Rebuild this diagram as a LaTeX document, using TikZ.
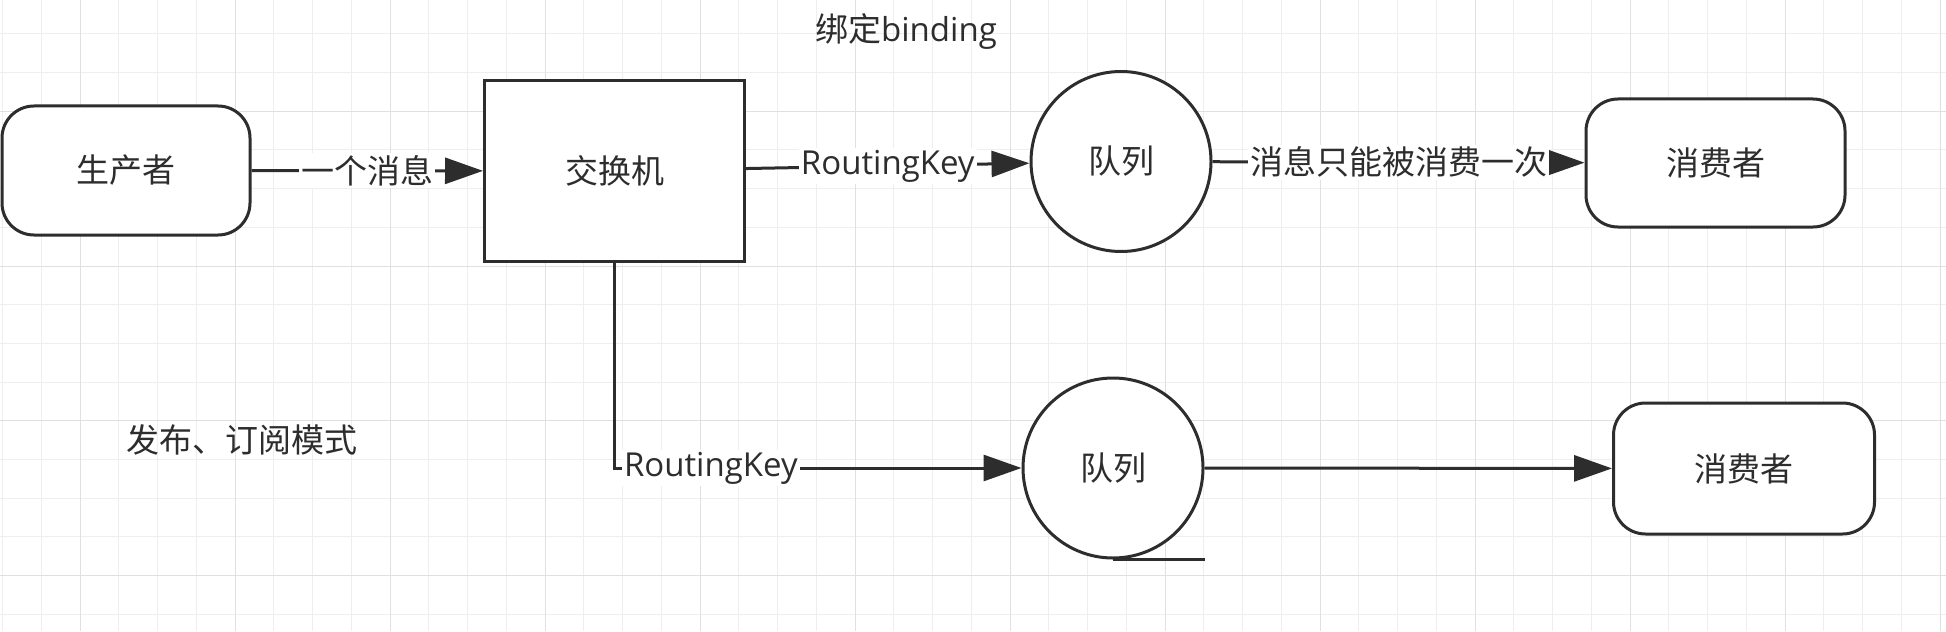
\documentclass[tikz,border=0pt]{standalone}
\usepackage{fontspec}
\setmainfont{Noto Sans CJK SC}
\newfontfamily\latin{Open Sans}
\usetikzlibrary{arrows.meta,positioning}
\definecolor{ink}{RGB}{45,45,45}
\definecolor{gridminor}{RGB}{238,238,238}
\definecolor{gridmajor}{RGB}{224,224,224}
\tikzset{>={Triangle[length=19pt,width=13pt]}}
\tikzset{
  terminal/.style={draw=ink, line width=1.5pt, rounded corners=16pt, fill=white,
                   minimum width=130pt, minimum height=65pt},
  exchange/.style={draw=ink, line width=1.5pt, fill=white,
                   minimum width=130pt, minimum height=90pt},
  queue/.style={draw=ink, line width=1.5pt, circle, fill=white, minimum size=90pt},
  flow/.style={->, draw=ink, line width=1.5pt},
  onflow/.style={fill=white, inner sep=1pt},
}

\begin{document}
\begin{tikzpicture}[x=0.5pt, y=-0.5pt,
    every node/.style={text=ink, font=\fontsize{16.5pt}{20pt}\selectfont}]
    \useasboundingbox (0,0) rectangle (1946,631);
    \fill[white] (0,0) rectangle (1946,631);
    % canvas grid
    \foreach \gx in {2.7,41.45,...,1946} \draw[gridminor, line width=0.5pt] (\gx,0) -- (\gx,631);
    \foreach \gy in {33.8,72.5,...,631} \draw[gridminor, line width=0.5pt] (0,\gy) -- (1946,\gy);
    \foreach \gx in {80.2,235.2,...,1946} \draw[gridmajor, line width=0.5pt] (\gx,0) -- (\gx,631);
    \foreach \gy in {111.2,266,...,631} \draw[gridmajor, line width=0.5pt] (0,\gy) -- (1946,\gy);

    \node[terminal, minimum width=124pt, minimum height=64.5pt](P) at (126,170.5) {生产者};
    \node[exchange](X) at (614.5,171) {交换机};
    \node[queue](Q1) at (1121,161.5) {队列};
    \node[terminal, minimum width=129.5pt, minimum height=64pt](C1) at (1715.5,163) {消费者};
    \node[queue](Q2) at (1113,468) {队列};
    \node[terminal, minimum width=130.5pt, minimum height=65.5pt](C2) at (1744,468.5) {消费者};

    \node (bind) at (906,31) {绑定{\latin binding}};
    \node (mode) at (242,440) {发布、订阅模式};

    \draw[flow] (P) -- node[onflow]{一个消息} (X);
    \draw[flow] (X) -- node[onflow]{\latin RoutingKey} (Q1);
    \draw[flow] (Q1) -- node[onflow]{消息只能被消费一次} (C1);
    \draw[flow] (X.south) |- node[onflow, pos=0.5, anchor=west, xshift=3pt]{\latin RoutingKey} (Q2);
    \draw[flow] (Q2) -- (C2);
    \draw[draw=ink, line width=1.5pt] (Q2.south) -- (Q2.south -| Q2.east);
\end{tikzpicture}
\end{document}
